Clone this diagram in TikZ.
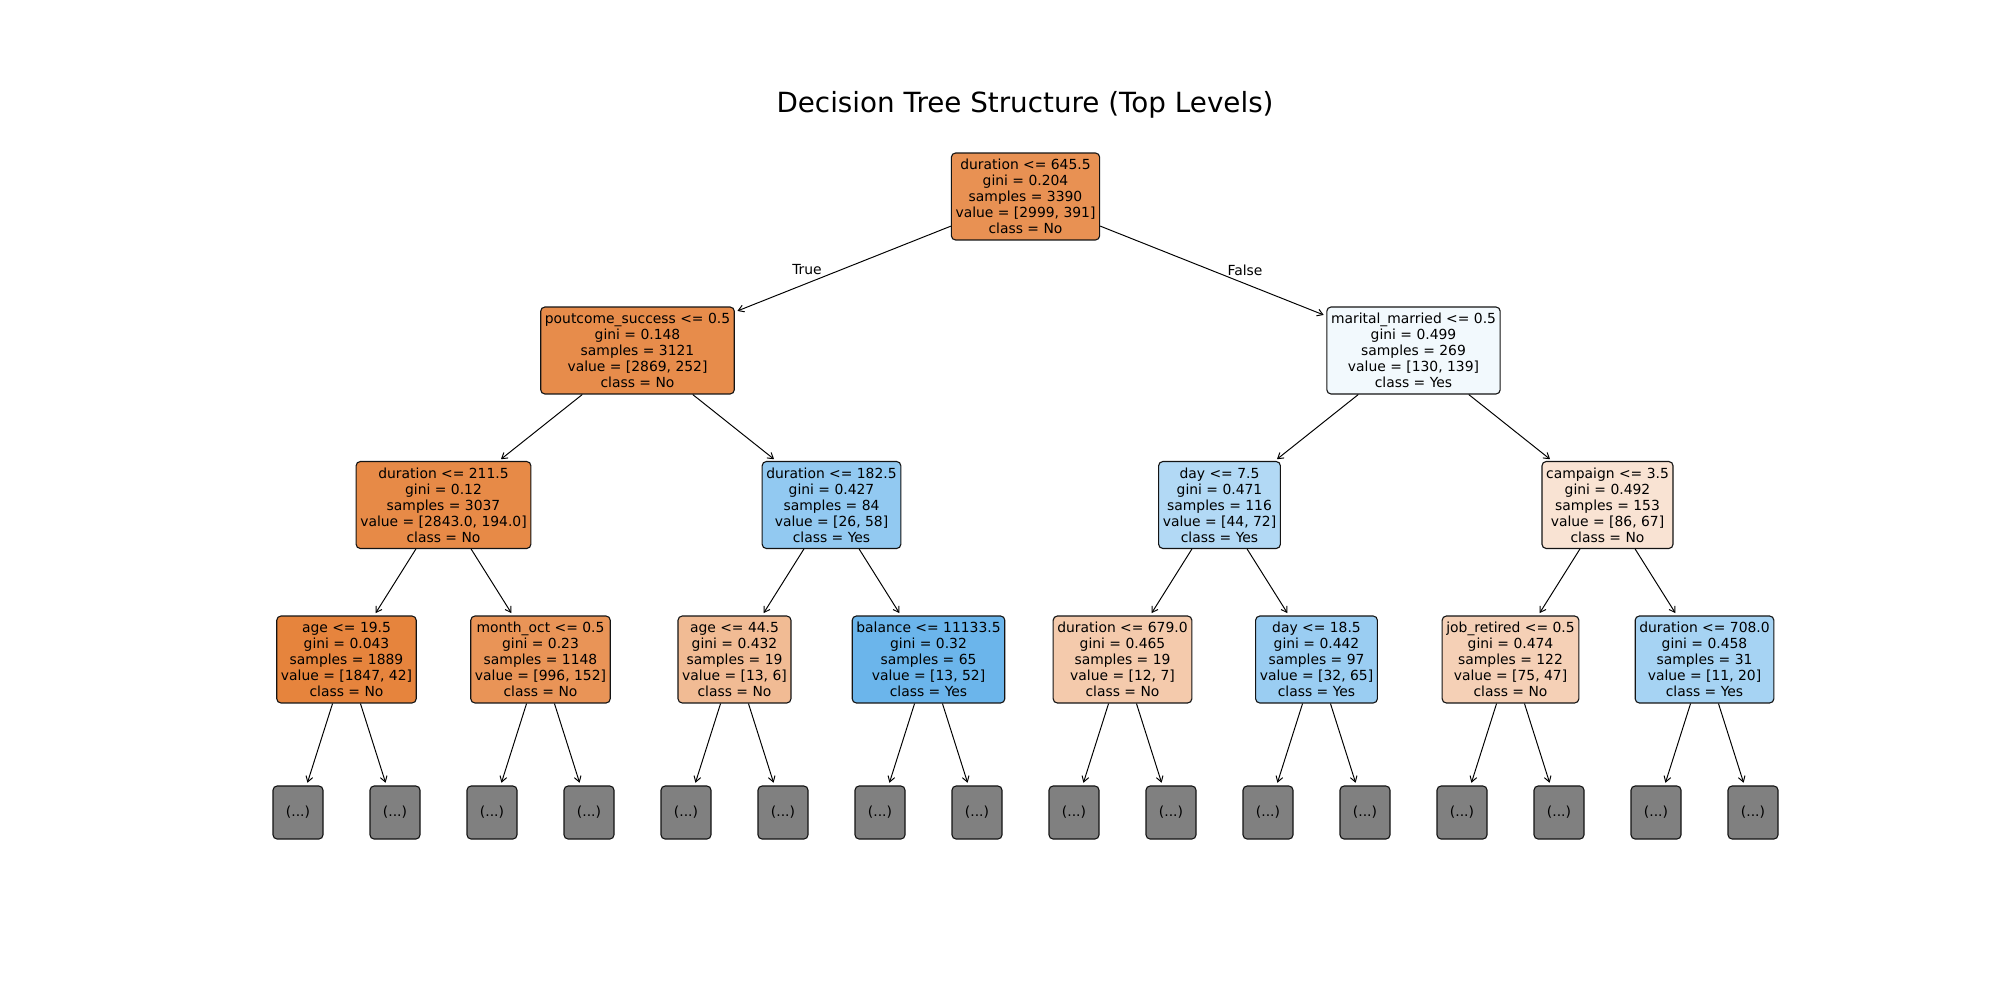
\documentclass[tikz,border=0pt]{standalone}
\usepackage{fontspec}
\setmainfont{DejaVu Sans}
\usetikzlibrary{arrows.meta}
\definecolor{clsno}{RGB}{229, 129, 57}
\definecolor{clsyes}{RGB}{57, 157, 229}
\definecolor{truncgray}{RGB}{128, 128, 128}
\definecolor{edgedark}{RGB}{20, 20, 20}

\begin{document}
\begin{tikzpicture}[
    x=0.72pt, y=-0.72pt,
    tnode/.style={rectangle, draw=edgedark, rounded corners=3pt, align=center, font=\fontsize{10}{11.5}\selectfont, inner xsep=3pt, inner ysep=0pt, minimum height=62.6pt, line width=0.8pt},
    trunc/.style={tnode, fill=truncgray, minimum width=36pt, minimum height=38.2pt},
    arrow/.style={-{Straight Barb[length=4pt, width=5pt]}, line width=0.7pt, shorten >=2pt, color=black},
    label/.style={font=\fontsize{10}{12}\selectfont}
]
\useasboundingbox (0,0) rectangle (2000,1000);
\fill[white] (0,0) rectangle (2000,1000);

% Title
\node[font=\fontsize{20}{24}\selectfont] (title) at (1025,105) {Decision Tree Structure (Top Levels)};

% Depth 0
\node[tnode, fill=clsno!87!white] (root) at (1025.5,196.5) {duration <= 645.5\\gini = 0.204\\samples = 3390\\value = [2999, 391]\\class = No};

% Depth 1
\node[tnode, fill=clsno!91!white] (pout) at (637.5,350.5) {poutcome\_success <= 0.5\\gini = 0.148\\samples = 3121\\value = [2869, 252]\\class = No};
\node[tnode, fill=clsyes!6.5!white] (marital) at (1413.5,350.5) {marital\_married <= 0.5\\gini = 0.499\\samples = 269\\value = [130, 139]\\class = Yes};

% Depth 2
\node[tnode, fill=clsno!93!white] (durA) at (443.5,505) {duration <= 211.5\\gini = 0.12\\samples = 3037\\value = [2843.0, 194.0]\\class = No};
\node[tnode, fill=clsyes!55!white] (durB) at (831.5,505) {duration <= 182.5\\gini = 0.427\\samples = 84\\value = [26, 58]\\class = Yes};
\node[tnode, fill=clsyes!39!white] (dayA) at (1219.5,505) {day <= 7.5\\gini = 0.471\\samples = 116\\value = [44, 72]\\class = Yes};
\node[tnode, fill=clsno!22!white] (camp) at (1607.5,505) {campaign <= 3.5\\gini = 0.492\\samples = 153\\value = [86, 67]\\class = No};

% Depth 3
\node[tnode, fill=clsno!98!white] (ageA) at (346.5,659.5) {age <= 19.5\\gini = 0.043\\samples = 1889\\value = [1847, 42]\\class = No};
\node[tnode, fill=clsno!85!white] (month) at (540.5,659.5) {month\_oct <= 0.5\\gini = 0.23\\samples = 1148\\value = [996, 152]\\class = No};
\node[tnode, fill=clsno!54!white] (ageB) at (734.5,659.5) {age <= 44.5\\gini = 0.432\\samples = 19\\value = [13, 6]\\class = No};
\node[tnode, fill=clsyes!75!white] (balance) at (928.5,659.5) {balance <= 11133.5\\gini = 0.32\\samples = 65\\value = [13, 52]\\class = Yes};
\node[tnode, fill=clsno!42!white] (durC) at (1122.5,659.5) {duration <= 679.0\\gini = 0.465\\samples = 19\\value = [12, 7]\\class = No};
\node[tnode, fill=clsyes!51!white] (dayB) at (1316.5,659.5) {day <= 18.5\\gini = 0.442\\samples = 97\\value = [32, 65]\\class = Yes};
\node[tnode, fill=clsno!37!white] (job) at (1510.5,659.5) {job\_retired <= 0.5\\gini = 0.474\\samples = 122\\value = [75, 47]\\class = No};
\node[tnode, fill=clsyes!45!white] (durD) at (1704.5,659.5) {duration <= 708.0\\gini = 0.458\\samples = 31\\value = [11, 20]\\class = Yes};

% Depth 4 (truncated)
\node[trunc] (t1) at (298,812.5) {(...)};
\node[trunc] (t2) at (395,812.5) {(...)};
\node[trunc] (t3) at (492,812.5) {(...)};
\node[trunc] (t4) at (589,812.5) {(...)};
\node[trunc] (t5) at (686,812.5) {(...)};
\node[trunc] (t6) at (783,812.5) {(...)};
\node[trunc] (t7) at (880,812.5) {(...)};
\node[trunc] (t8) at (977,812.5) {(...)};
\node[trunc] (t9) at (1074,812.5) {(...)};
\node[trunc] (t10) at (1171,812.5) {(...)};
\node[trunc] (t11) at (1268,812.5) {(...)};
\node[trunc] (t12) at (1365,812.5) {(...)};
\node[trunc] (t13) at (1462,812.5) {(...)};
\node[trunc] (t14) at (1559,812.5) {(...)};
\node[trunc] (t15) at (1656,812.5) {(...)};
\node[trunc] (t16) at (1753,812.5) {(...)};

% Edges
\draw[arrow] (root) -- (pout);
\draw[arrow] (root) -- (marital);
\node[label] (truelbl) at (807,270) {True};
\node[label] (falselbl) at (1245,270) {False};

\draw[arrow] (pout) -- (durA);
\draw[arrow] (pout) -- (durB);
\draw[arrow] (marital) -- (dayA);
\draw[arrow] (marital) -- (camp);

\draw[arrow] (durA) -- (ageA);
\draw[arrow] (durA) -- (month);
\draw[arrow] (durB) -- (ageB);
\draw[arrow] (durB) -- (balance);
\draw[arrow] (dayA) -- (durC);
\draw[arrow] (dayA) -- (dayB);
\draw[arrow] (camp) -- (job);
\draw[arrow] (camp) -- (durD);

\draw[arrow] (ageA) -- (t1);
\draw[arrow] (ageA) -- (t2);
\draw[arrow] (month) -- (t3);
\draw[arrow] (month) -- (t4);
\draw[arrow] (ageB) -- (t5);
\draw[arrow] (ageB) -- (t6);
\draw[arrow] (balance) -- (t7);
\draw[arrow] (balance) -- (t8);
\draw[arrow] (durC) -- (t9);
\draw[arrow] (durC) -- (t10);
\draw[arrow] (dayB) -- (t11);
\draw[arrow] (dayB) -- (t12);
\draw[arrow] (job) -- (t13);
\draw[arrow] (job) -- (t14);
\draw[arrow] (durD) -- (t15);
\draw[arrow] (durD) -- (t16);

\end{tikzpicture}
\end{document}
